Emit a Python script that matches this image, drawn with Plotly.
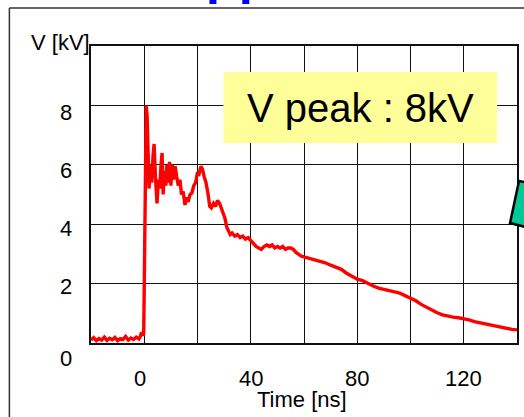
import plotly.graph_objects as go

# ---- data ----
time_ns = [-20, -19, -18, -17, -16, -15, -14, -13, -12, -11, -10, -9, -8, -7, -6, -5, -4, -3, -2, -1.5, -1, -0.5, -0.2,
           0.1, 0.4, 0.75, 1.1, 1.4, 1.8, 2.3, 2.8, 3.3, 3.7, 4.2, 4.8, 5.3, 5.8, 6.3, 6.7, 7.1, 7.6, 8.1, 8.5, 9.0,
           9.5, 10.0, 10.5, 11.0, 11.6, 12.2, 12.8, 13.4, 14.0, 14.6, 15.3, 15.9, 16.5, 17.2, 17.9, 18.6, 19.3,
           20.0, 20.6, 21.3, 21.9, 22.5, 23.2, 24.0, 24.6, 25.2, 26.0, 26.8, 27.5, 28.3, 29.0, 29.6, 30.3, 31.0,
           31.6, 32.3, 33, 34, 35, 36, 37, 38, 39, 40, 41, 42, 43, 44, 45, 46, 47, 48, 49, 50, 51, 52, 53, 54,
           55, 56, 57, 58, 59, 60, 62, 64, 66, 68, 70, 72, 74, 76, 78, 80, 82, 84, 86, 88, 90, 92, 94, 96, 98,
           100, 102, 104, 106, 108, 110, 112, 114, 116, 118, 120, 122, 124, 126, 128, 130, 132, 134, 136, 138, 140]
voltage_kv = [0.10, 0.18, 0.08, 0.15, 0.10, 0.20, 0.09, 0.16, 0.11, 0.19, 0.08, 0.15, 0.12, 0.22, 0.10, 0.17, 0.12, 0.20, 0.14, 0.22, 0.36, 0.25, 0.32,
              3.2, 7.0, 8.0, 7.6, 6.5, 5.2, 6.0, 5.4, 6.3, 6.7, 5.6, 4.7, 5.5, 5.2, 6.0, 6.4, 5.0, 5.8, 5.3, 6.0, 5.4,
              6.1, 5.3, 6.0, 5.5, 5.95, 5.6, 5.3, 5.5, 5.0, 5.1, 4.65, 4.9, 4.75, 5.0, 5.05, 5.3, 5.4,
              5.75, 5.7, 5.95, 5.85, 5.6, 5.4, 5.0, 4.6, 4.55, 4.7, 4.6, 4.8, 4.7, 4.5, 4.35, 4.2, 3.9,
              3.75, 3.65, 3.7, 3.6, 3.65, 3.55, 3.6, 3.5, 3.55, 3.45, 3.35, 3.25, 3.2, 3.15, 3.25, 3.3, 3.25, 3.3, 3.2, 3.25, 3.2, 3.25,
              3.15, 3.2, 3.2, 3.15, 3.05, 2.97, 2.92, 2.9, 2.85, 2.8, 2.75, 2.7, 2.62, 2.55, 2.48, 2.35, 2.25, 2.15, 2.1, 2.0, 1.92,
              1.85, 1.8, 1.75, 1.72, 1.68, 1.6, 1.5, 1.42, 1.3, 1.2, 1.1, 1.02, 0.95, 0.9, 0.87, 0.85, 0.82, 0.78, 0.72, 0.68,
              0.64, 0.6, 0.56, 0.52, 0.5, 0.46, 0.44]

x_tick_vals = [0, 40, 80, 120]
x_tick_text = ["0", "40", "80", "120"]
y_tick_vals = [0, 2, 4, 6, 8]
y_tick_text = ["0", "2", "4", "6", "8"]
y_label_shift = [-15, -3, -4, -6, -7]   # px offsets of the labels seen in the picture

x_title = "Time [ns]"
y_title = "V [kV]"
box_text = "V peak : 8kV"

FONT = "Arial, Liberation Sans, sans-serif"

# layout geometry (pixels)
W, H = 524, 417
L, R, T, B = 91, 519, 46, 343


def px(x):
    return (x - L) / (R - L)


def py(y):
    return (B - y) / (B - T)


fig = go.Figure()
fig.add_trace(go.Scatter(x=time_ns, y=voltage_kv, mode="lines",
                         line=dict(color="#FF0000", width=3.4), showlegend=False))

axis_common = dict(showgrid=True, gridcolor="#111111", gridwidth=1, showticklabels=False,
                   showline=True, linecolor="#111111", linewidth=1.5, mirror=True,
                   zeroline=False, ticks="")
fig.update_xaxes(range=[-20, 140], dtick=20, tick0=0, **axis_common)
fig.update_yaxes(range=[0, 10], dtick=2, tick0=0, **axis_common)

annotations = []
for v, t in zip(x_tick_vals, x_tick_text):
    annotations.append(dict(x=v, y=0, xref="x", yref="paper", text=t, showarrow=False,
                            xanchor="center", yanchor="middle", yshift=-35,
                            xshift=-4 if v == 0 else 0,
                            font=dict(family=FONT, size=22, color="black")))
for v, t, s in zip(y_tick_vals, y_tick_text, y_label_shift):
    annotations.append(dict(x=0, y=v, xref="paper", yref="y", text=t, showarrow=False,
                            xanchor="right", yanchor="middle", xshift=-17, yshift=s,
                            font=dict(family=FONT, size=22, color="black")))
annotations.append(dict(x=px(303), y=py(400), xref="paper", yref="paper", text=x_title,
                        showarrow=False, xanchor="center", yanchor="middle",
                        font=dict(family=FONT, size=22, color="black")))
annotations.append(dict(x=px(92), y=py(42), xref="paper", yref="paper", text=y_title,
                        showarrow=False, xanchor="right", yanchor="middle",
                        font=dict(family=FONT, size=22, color="black")))
annotations.append(dict(x=px(362), y=py(108), xref="paper", yref="paper", text=box_text,
                        showarrow=False, xanchor="center", yanchor="middle",
                        font=dict(family=FONT, size=40, color="black")))

shapes = [
    # slide frame
    dict(type="line", xref="paper", yref="paper", x0=px(9), x1=px(9), y0=py(8), y1=py(420),
         line=dict(color="#333333", width=1.5)),
    dict(type="line", xref="paper", yref="paper", x0=px(9), x1=px(530), y0=py(8), y1=py(8),
         line=dict(color="#333333", width=1.5)),
    # fragments of the cut-off blue title
    dict(type="rect", xref="paper", yref="paper", x0=px(210), x1=px(217), y0=py(0), y1=py(4),
         fillcolor="#0000FF", line=dict(width=0)),
    dict(type="rect", xref="paper", yref="paper", x0=px(243), x1=px(250), y0=py(0), y1=py(4),
         fillcolor="#0000FF", line=dict(width=0)),
    # yellow label box
    dict(type="rect", xref="paper", yref="paper", x0=px(224), x1=px(499), y0=py(72), y1=py(143),
         fillcolor="#FFFF99", line=dict(width=0), layer="above"),
    # teal shape at right edge
    dict(type="path", xref="paper", yref="paper",
         path=f"M {px(521)},{py(181)} L {px(535)},{py(184)} L {px(535)},{py(229)} L {px(512)},{py(223)} Z",
         fillcolor="#00C896", line=dict(color="black", width=2.5), layer="above"),
]

fig.update_layout(width=W, height=H, margin=dict(l=L, r=W - R, t=T, b=H - B),
                  paper_bgcolor="white", plot_bgcolor="white",
                  annotations=annotations, shapes=shapes, showlegend=False)

fig.write_html("out.html", config={"displayModeBar": False},
               post_script="document.body.style.margin='0';document.body.style.overflow='hidden';")
